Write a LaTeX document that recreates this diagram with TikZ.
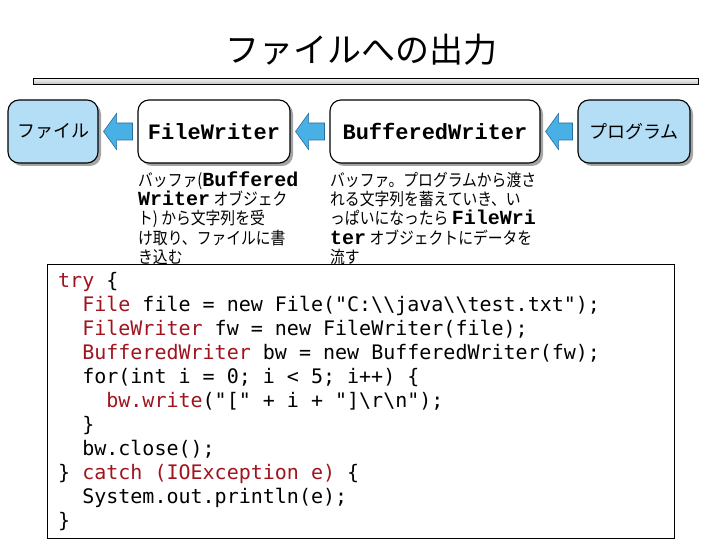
\documentclass[tikz,border=0pt]{standalone}
\usepackage{fontspec}
\setmainfont{Liberation Sans}
\newfontfamily\jpfont{Noto Sans CJK JP}
\newfontfamily\jpnfont{Noto Sans CJK JP}[FakeStretch=0.87]
\newfontfamily\courfont{Liberation Mono}
\newfontfamily\codefont{DejaVu Sans Mono}
\usetikzlibrary{calc,shadows}
\definecolor{boxblue}{RGB}{180,222,245}
\definecolor{arrowblue}{RGB}{72,176,228}
\definecolor{arrowedge}{RGB}{40,110,160}
\definecolor{codered}{RGB}{160,20,30}
\definecolor{shadowgray}{RGB}{165,165,165}
\newcommand{\monob}[1]{{\courfont\bfseries\fontsize{20}{20}\selectfont #1}}
\newcommand{\kw}[1]{\textcolor{codered}{#1}}
\newcommand{\fatarrow}[2]{%
  \filldraw[fatarrowstyle] let \p1=($(#2.east)+(5pt,0pt)$), \p2=($(#1.west)+(-5pt,0pt)$) in
  (\x1,\y1) -- (\x1+13pt,\y1+18pt) -- (\x1+13pt,\y1+8.5pt) -- (\x2,\y1+8.5pt)
  -- (\x2,\y1-8.5pt) -- (\x1+13pt,\y1-8.5pt) -- (\x1+13pt,\y1-18pt) -- cycle;}
\tikzset{
  procbox/.style={draw=black, line width=1.1pt, rounded corners=11pt, minimum height=63pt, inner sep=0pt,
    drop shadow={shadow xshift=3pt, shadow yshift=-3pt, fill=shadowgray, opacity=1}},
  bluebox/.style={procbox, fill=boxblue, font=\jpfont\fontsize{18}{22}\selectfont},
  whitebox/.style={procbox, fill=white, font=\courfont\bfseries\fontsize{22}{26}\selectfont},
  fatarrowstyle/.style={fill=arrowblue, draw=arrowedge, line width=0.6pt, line join=miter},
  desc/.style={anchor=base west, inner sep=0pt, font=\jpnfont\fontsize{17}{20}\selectfont},
  codeline/.style={anchor=base west, inner sep=0pt, font=\codefont\fontsize{20}{24}\selectfont},
}
\begin{document}
\begin{tikzpicture}[x=1pt,y=-1pt]
\useasboundingbox (0,0) rectangle (720,540);
\fill[white] (0,0) rectangle (720,540);
% title
\node[font=\jpfont\fontsize{34}{40}\selectfont, inner sep=0pt] (title) at (361,50) {ファイルへの出力};
\node[draw=black, line width=0.8pt, minimum width=665pt, minimum height=6pt, inner sep=0pt,
  top color=gray!8, bottom color=gray!45] (bar) at (365.5,81) {};
% boxes
\node[bluebox, minimum width=90pt] (file) at (53,131.5) {ファイル};
\node[whitebox, minimum width=152pt] (fw) at (214,131.5) {FileWriter};
\node[whitebox, minimum width=210pt] (bw) at (435,131.5) {BufferedWriter};
\node[bluebox, minimum width=112pt] (prog) at (634,131.5) {プログラム};
% arrows
\fatarrow{fw}{file}
\fatarrow{bw}{fw}
\fatarrow{prog}{bw}
% descriptions
\node[desc] (d1a) at (138,187) {バッファ(\monob{Buffered}};
\node[desc] (d1b) at (138,206) {\monob{Writer} オブジェク};
\node[desc] (d1c) at (138,225) {ト) から文字列を受};
\node[desc] (d1d) at (138,244) {け取り、ファイルに書};
\node[desc] (d1e) at (138,263) {き込む};
\node[desc] (d2a) at (330,187) {バッファ。プログラムから渡さ};
\node[desc] (d2b) at (330,206) {れる文字列を蓄えていき、い};
\node[desc] (d2c) at (330,225) {っぱいになったら \monob{FileWri}};
\node[desc] (d2d) at (330,244) {\monob{ter} オブジェクトにデータを};
\node[desc] (d2e) at (330,263) {流す};
% code box
\node[draw=black, line width=1pt, fill=white, minimum width=627pt, minimum height=274pt,
  anchor=north west, inner sep=0pt] (codebox) at (47,264) {};
\node[codeline] (c1) at (58,287) {\kw{try} \{};
\node[codeline] (c2) at (82.08,311) {\kw{File} file = new File("C:\textbackslash\textbackslash{}java\textbackslash\textbackslash{}test.txt");};
\node[codeline] (c3) at (82.08,335) {\kw{FileWriter} fw = new FileWriter(file);};
\node[codeline] (c4) at (82.08,359) {\kw{BufferedWriter} bw = new BufferedWriter(fw);};
\node[codeline] (c5) at (82.08,383) {for(int i = 0; i < 5; i++) \{};
\node[codeline] (c6) at (106.16,407) {\kw{bw.write}("[" + i + "]\textbackslash r\textbackslash n");};
\node[codeline] (c7) at (82.08,431) {\}};
\node[codeline] (c8) at (82.08,455) {bw.close();};
\node[codeline] (c9) at (58,479) {\} \kw{catch (IOException e)} \{};
\node[codeline] (c10) at (82.08,503) {System.out.println(e);};
\node[codeline] (c11) at (58,527) {\}};
\end{tikzpicture}
\end{document}
